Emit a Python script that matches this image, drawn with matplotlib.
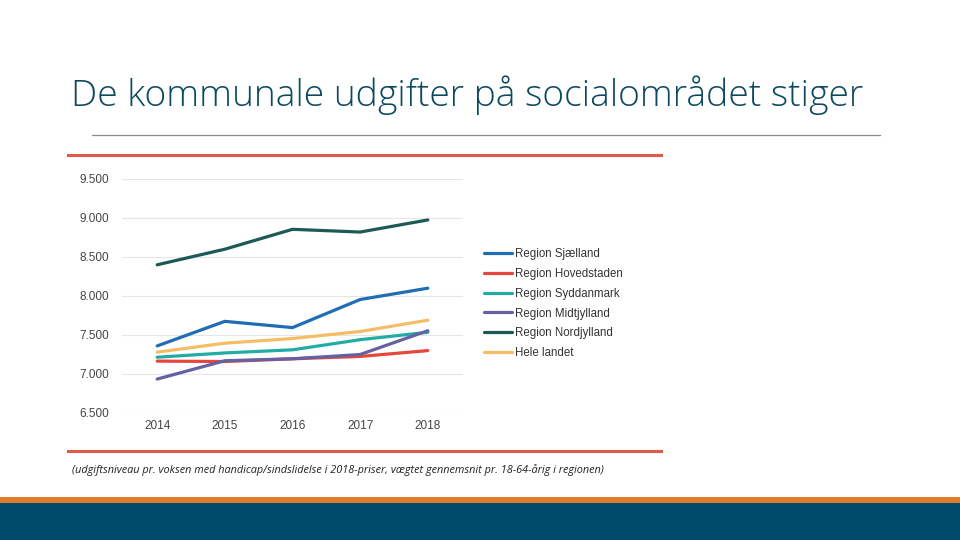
import numpy as np
import matplotlib
matplotlib.use('Agg')
import matplotlib.pyplot as plt
from matplotlib.ticker import FuncFormatter


years = [2014, 2015, 2016, 2017, 2018]

sjaelland = [7360, 7675, 7595, 7955, 8100]
hovedstaden = [7165, 7160, 7195, 7225, 7300]
syddanmark = [7215, 7270, 7310, 7440, 7535]
midtjylland = [6935, 7170, 7195, 7250, 7555]
nordjylland = [8400, 8600, 8855, 8820, 8975]
hele_landet = [7280, 7395, 7455, 7545, 7690]

series_names = ['Region Sjælland', 'Region Hovedstaden', 'Region Syddanmark',
                'Region Midtjylland', 'Region Nordjylland', 'Hele landet']
yticks = [6500, 7000, 7500, 8000, 8500, 9000, 9500]

title = 'De kommunale udgifter på socialområdet stiger'
footnote = ('(udgiftsniveau pr. voksen med handicap/sindslidelse i 2018-priser, '
            'vægtet gennemsnit pr. 18-64-årig i regionen)')

colors = ['#1f6db4', '#e5473d', '#22aca6', '#6562a3', '#1d5a55', '#f4bd66']

W, H = 960, 540
fig = plt.figure(figsize=(9.6, 5.4), dpi=100)


def fx(px):
    return px / W


def fy(px):
    return 1 - px / H


# Title and separator
fig.text(fx(71), fy(95), title, fontsize=26.8, color='#0e4a5f',
         family='Open Sans', fontweight='light', va='center', ha='left')
fig.add_artist(plt.Line2D([fx(92), fx(880)], [fy(135), fy(135)],
                          color='#8c8c8c', lw=0.9))

# Red frame lines around the chart
for yy in (155, 451):
    fig.add_artist(plt.Line2D([fx(68), fx(661)], [fy(yy), fy(yy)],
                              color='#df5a4a', lw=2.2))

# Bottom bands
fig.add_artist(plt.Rectangle((0, 0), 1, fy(503), color='#004b6b', lw=0))
fig.add_artist(plt.Rectangle((0, fy(503)), 1, 6 / H, color='#e07b2e', lw=0))

# Chart
ax = fig.add_axes([fx(122), fy(413), fx(463 - 122), (413 - 179) / H])
data = [sjaelland, hovedstaden, syddanmark, midtjylland, nordjylland, hele_landet]
for vals, name, c in zip(data, series_names, colors):
    ax.plot(years, vals, color=c, lw=2.3, label=name, solid_capstyle='round')

ax.set_xlim(2013.48, 2018.52)
ax.set_ylim(6500, 9500)
ax.set_xticks(years)
ax.set_yticks(yticks)
ax.yaxis.set_major_formatter(FuncFormatter(lambda v, p: f'{int(v):,}'.replace(',', '.')))
ax.grid(axis='y', color='#e6e6e6', lw=0.8)
ax.set_axisbelow(True)
for s in ax.spines.values():
    s.set_visible(False)
ax.tick_params(length=0, labelsize=8.5, labelcolor='#444444', labelfontfamily='Liberation Sans')
ax.tick_params(axis='y', pad=9)
ax.tick_params(axis='x', pad=5)

ax.legend(loc='upper left', bbox_to_anchor=(fx(484), fy(248)),
          bbox_transform=fig.transFigure, frameon=False,
          prop={'family': 'Liberation Sans', 'size': 8.3},
          handlelength=2.4, handletextpad=0.3, labelspacing=0.68,
          borderpad=0, borderaxespad=0, labelcolor='#333333')

fig.text(fx(72), fy(470), footnote, fontsize=7.8, style='italic',
         color='#222222', va='center', ha='left', family='Open Sans')

fig.savefig('out.png', dpi=100, facecolor='white')
